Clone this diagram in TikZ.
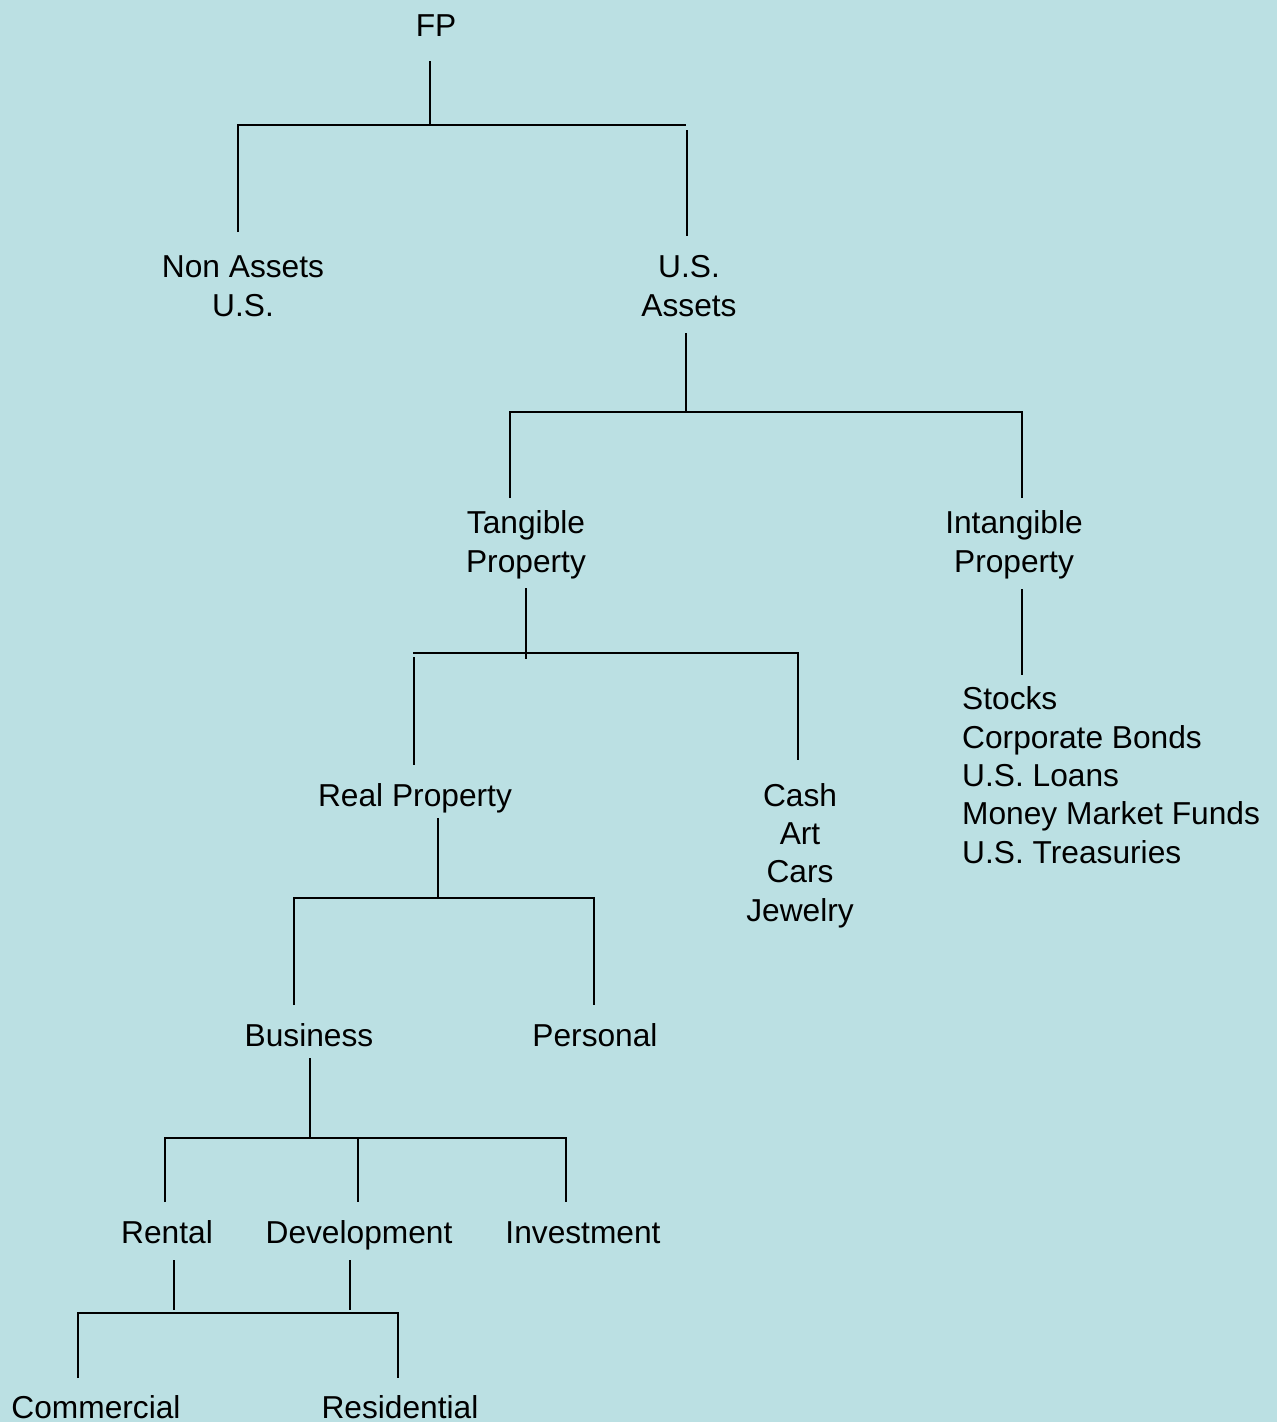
\documentclass[tikz,border=0pt]{standalone}
\usepackage{fontspec}
\setmainfont{Liberation Sans}
\definecolor{bgc}{RGB}{187,224,227}
\begin{document}
\begin{tikzpicture}[x=1pt,y=-1pt,
  lbl/.style={inner sep=0pt, font=\fontsize{31.7}{38.3}\selectfont, align=center, anchor=base},
  lst/.style={inner sep=0pt, font=\fontsize{31.7}{38.3}\selectfont, align=left, anchor=base west},
  conn/.style={line width=2pt, draw=black}]
\fill[bgc] (0,0) rectangle (1277,1422);
\useasboundingbox (0,0) rectangle (1277,1422);
% nodes (multi-line nodes are placed by the baseline of their last line)
\node[lbl] (fp) at (436,36) {FP};
\node[lbl] (nonus) at (243,316) {Non Assets\\U.S.};
\node[lbl] (usa) at (689,316) {U.S.\\Assets};
\node[lbl] (tang) at (526,572) {Tangible\\Property};
\node[lbl] (intang) at (1014,572) {Intangible\\Property};
\node[lst] (stocks) at (962,863) {Stocks\\Corporate Bonds\\U.S. Loans\\Money Market Funds\\U.S. Treasuries};
\node[lbl] (real) at (415,806) {Real Property};
\node[lbl] (cash) at (800,921) {Cash\\Art\\Cars\\Jewelry};
\node[lbl] (bus) at (309,1046) {Business};
\node[lbl] (pers) at (595,1046) {Personal};
\node[lbl] (rent) at (167,1243) {Rental};
\node[lbl] (dev) at (359,1243) {Development};
\node[lbl] (inv) at (583,1243) {Investment};
\node[lbl] (com) at (96,1418) {Commercial};
\node[lbl] (res) at (400,1418) {Residential};
% connector points
\coordinate (fp-s) at (430,61);
\coordinate (fp-j) at (430,125);
\coordinate (nonus-t) at (238,232);
\coordinate (nonus-j) at (238,125);
\coordinate (usa-j) at (686,125);
\coordinate (usa-t1) at (687,130);
\coordinate (usa-t) at (687,236);
\coordinate (usa-s) at (686,333);
\coordinate (usa-b) at (686,412);
\coordinate (tang-j) at (510,412);
\coordinate (tang-t) at (510,498);
\coordinate (intang-j) at (1022,412);
\coordinate (intang-t) at (1022,498);
\coordinate (intang-s) at (1022,589);
\coordinate (stocks-t) at (1022,675);
\coordinate (tang-s) at (526,588);
\coordinate (tang-b) at (526,659);
\coordinate (real-j0) at (413,653);
\coordinate (real-j) at (414,657);
\coordinate (real-t) at (414,765);
\coordinate (cash-j) at (798,653);
\coordinate (cash-t) at (798,760);
\coordinate (real-s) at (438,818);
\coordinate (real-b) at (438,898);
\coordinate (bus-j) at (294,898);
\coordinate (bus-t) at (294,1005);
\coordinate (pers-j) at (594,898);
\coordinate (pers-t) at (594,1005);
\coordinate (bus-s) at (310,1058);
\coordinate (bus-b) at (310,1138);
\coordinate (rent-j) at (165,1138);
\coordinate (rent-t) at (165,1202);
\coordinate (dev-j) at (358,1138);
\coordinate (dev-t) at (358,1202);
\coordinate (inv-j) at (566,1138);
\coordinate (inv-t) at (566,1202);
\coordinate (rent-s) at (174,1260);
\coordinate (rent-b) at (174,1310);
\coordinate (dev-s) at (350,1260);
\coordinate (dev-b) at (350,1310);
\coordinate (com-j) at (78,1313);
\coordinate (com-t) at (78,1378);
\coordinate (res-j) at (398,1313);
\coordinate (res-t) at (398,1378);
% connectors
\draw[conn] (fp-s) -- (fp-j);
\draw[conn] (nonus-t) -- (nonus-j) -- (usa-j);
\draw[conn] (usa-t1) -- (usa-t);
\draw[conn] (usa-s) -- (usa-b);
\draw[conn] (tang-t) -- (tang-j) -- (intang-j) -- (intang-t);
\draw[conn] (intang-s) -- (stocks-t);
\draw[conn] (tang-s) -- (tang-b);
\draw[conn] (real-j0) -- (cash-j) -- (cash-t);
\draw[conn] (real-j) -- (real-t);
\draw[conn] (real-s) -- (real-b);
\draw[conn] (bus-t) -- (bus-j) -- (pers-j) -- (pers-t);
\draw[conn] (bus-s) -- (bus-b);
\draw[conn] (rent-t) -- (rent-j) -- (inv-j) -- (inv-t);
\draw[conn] (dev-j) -- (dev-t);
\draw[conn] (rent-s) -- (rent-b);
\draw[conn] (dev-s) -- (dev-b);
\draw[conn] (com-t) -- (com-j) -- (res-j) -- (res-t);
\end{tikzpicture}
\end{document}
